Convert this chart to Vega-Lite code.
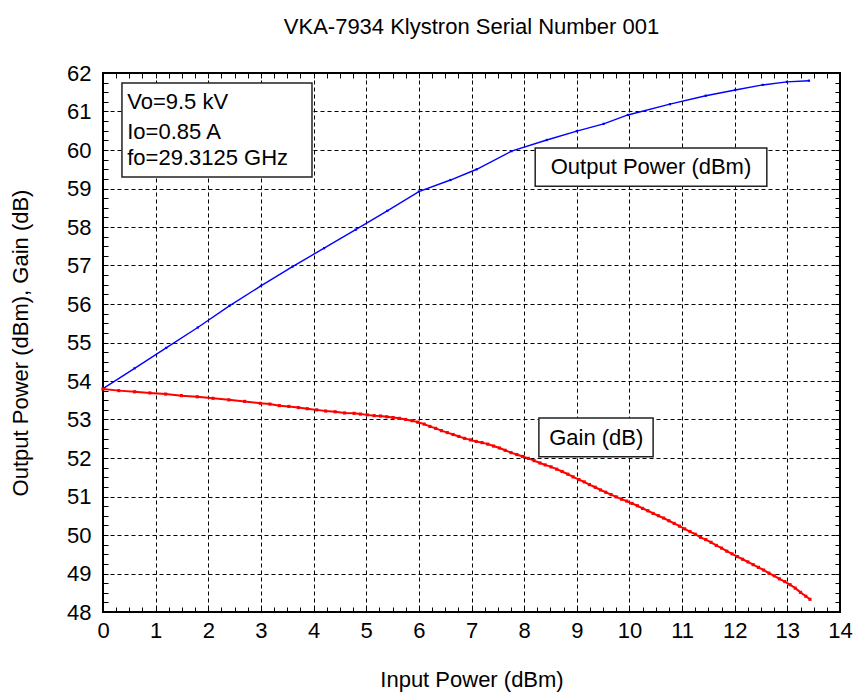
{
  "$schema": "https://vega.github.io/schema/vega-lite/v6.json",
  "width": 737,
  "height": 539,
  "autosize": {"type": "none"},
  "padding": {"left": 103, "top": 73, "right": 18, "bottom": 84},
  "background": "white",
  "config": {
    "view": {"stroke": "black", "strokeWidth": 2},
    "font": "Liberation Sans"
  },
  "title": {
    "text": "VKA-7934 Klystron Serial Number 001",
    "font": "Liberation Sans",
    "fontSize": 22,
    "fontWeight": "normal",
    "color": "black",
    "offset": 23
  },
  "datasets": {
    "power": [
      {"inp": 0, "out": 53.8},
      {"inp": 0.6, "out": 54.33},
      {"inp": 1.2, "out": 54.86},
      {"inp": 1.8, "out": 55.39},
      {"inp": 2.4, "out": 55.95},
      {"inp": 3.0, "out": 56.47},
      {"inp": 3.6, "out": 56.97},
      {"inp": 4.2, "out": 57.45},
      {"inp": 4.8, "out": 57.93},
      {"inp": 5.4, "out": 58.42},
      {"inp": 6.0, "out": 58.92},
      {"inp": 6.6, "out": 59.22},
      {"inp": 7.1, "out": 59.5},
      {"inp": 7.76, "out": 59.97},
      {"inp": 8.43, "out": 60.26},
      {"inp": 9.0, "out": 60.49},
      {"inp": 9.51, "out": 60.68},
      {"inp": 9.97, "out": 60.91},
      {"inp": 10.77, "out": 61.19},
      {"inp": 11.45, "out": 61.41},
      {"inp": 12.01, "out": 61.56},
      {"inp": 12.53, "out": 61.69},
      {"inp": 12.99, "out": 61.77},
      {"inp": 13.41, "out": 61.8}
    ],
    "gain": [
      {"inp": 0, "gain": 53.79},
      {"inp": 0.3, "gain": 53.75},
      {"inp": 0.6, "gain": 53.72},
      {"inp": 0.89, "gain": 53.69},
      {"inp": 1.19, "gain": 53.66},
      {"inp": 1.49, "gain": 53.62},
      {"inp": 1.79, "gain": 53.59},
      {"inp": 2.09, "gain": 53.55},
      {"inp": 2.39, "gain": 53.51},
      {"inp": 2.69, "gain": 53.47},
      {"inp": 2.99, "gain": 53.42},
      {"inp": 3.17, "gain": 53.4},
      {"inp": 3.35, "gain": 53.36},
      {"inp": 3.53, "gain": 53.34},
      {"inp": 3.71, "gain": 53.31},
      {"inp": 3.88, "gain": 53.28},
      {"inp": 4.06, "gain": 53.25},
      {"inp": 4.23, "gain": 53.22},
      {"inp": 4.41, "gain": 53.2},
      {"inp": 4.59, "gain": 53.17},
      {"inp": 4.77, "gain": 53.16},
      {"inp": 4.89, "gain": 53.14},
      {"inp": 5.02, "gain": 53.12},
      {"inp": 5.15, "gain": 53.1},
      {"inp": 5.27, "gain": 53.09},
      {"inp": 5.39, "gain": 53.07},
      {"inp": 5.51, "gain": 53.05},
      {"inp": 5.63, "gain": 53.03},
      {"inp": 5.75, "gain": 53.0},
      {"inp": 5.87, "gain": 52.97},
      {"inp": 5.98, "gain": 52.93},
      {"inp": 6.1, "gain": 52.88},
      {"inp": 6.21, "gain": 52.82},
      {"inp": 6.32, "gain": 52.77},
      {"inp": 6.43, "gain": 52.71},
      {"inp": 6.54, "gain": 52.66},
      {"inp": 6.65, "gain": 52.61},
      {"inp": 6.76, "gain": 52.56},
      {"inp": 6.87, "gain": 52.51},
      {"inp": 6.98, "gain": 52.47},
      {"inp": 7.09, "gain": 52.43},
      {"inp": 7.2, "gain": 52.4},
      {"inp": 7.31, "gain": 52.36},
      {"inp": 7.42, "gain": 52.31},
      {"inp": 7.53, "gain": 52.26},
      {"inp": 7.64, "gain": 52.2},
      {"inp": 7.75, "gain": 52.14},
      {"inp": 7.86, "gain": 52.09},
      {"inp": 7.97, "gain": 52.04},
      {"inp": 8.08, "gain": 51.99},
      {"inp": 8.19, "gain": 51.93},
      {"inp": 8.3, "gain": 51.87},
      {"inp": 8.4, "gain": 51.82},
      {"inp": 8.51, "gain": 51.77},
      {"inp": 8.62, "gain": 51.71},
      {"inp": 8.72, "gain": 51.65},
      {"inp": 8.83, "gain": 51.58},
      {"inp": 8.93, "gain": 51.51},
      {"inp": 9.04, "gain": 51.44},
      {"inp": 9.14, "gain": 51.38},
      {"inp": 9.24, "gain": 51.31},
      {"inp": 9.35, "gain": 51.24},
      {"inp": 9.45, "gain": 51.17},
      {"inp": 9.55, "gain": 51.11},
      {"inp": 9.65, "gain": 51.05},
      {"inp": 9.75, "gain": 50.99},
      {"inp": 9.85, "gain": 50.93},
      {"inp": 9.95, "gain": 50.88},
      {"inp": 10.05, "gain": 50.82},
      {"inp": 10.15, "gain": 50.76},
      {"inp": 10.25, "gain": 50.69},
      {"inp": 10.35, "gain": 50.63},
      {"inp": 10.45, "gain": 50.56},
      {"inp": 10.55, "gain": 50.5},
      {"inp": 10.65, "gain": 50.44},
      {"inp": 10.75, "gain": 50.37},
      {"inp": 10.85, "gain": 50.3},
      {"inp": 10.95, "gain": 50.23},
      {"inp": 11.05, "gain": 50.16},
      {"inp": 11.15, "gain": 50.09},
      {"inp": 11.25, "gain": 50.02},
      {"inp": 11.35, "gain": 49.94},
      {"inp": 11.45, "gain": 49.88},
      {"inp": 11.55, "gain": 49.81},
      {"inp": 11.65, "gain": 49.73},
      {"inp": 11.75, "gain": 49.66},
      {"inp": 11.85, "gain": 49.58},
      {"inp": 11.95, "gain": 49.51},
      {"inp": 12.05, "gain": 49.44},
      {"inp": 12.15, "gain": 49.37},
      {"inp": 12.25, "gain": 49.3},
      {"inp": 12.35, "gain": 49.23},
      {"inp": 12.45, "gain": 49.16},
      {"inp": 12.55, "gain": 49.09},
      {"inp": 12.65, "gain": 49.01},
      {"inp": 12.75, "gain": 48.94},
      {"inp": 12.85, "gain": 48.86},
      {"inp": 12.95, "gain": 48.79},
      {"inp": 13.05, "gain": 48.71},
      {"inp": 13.15, "gain": 48.62},
      {"inp": 13.25, "gain": 48.51},
      {"inp": 13.35, "gain": 48.41},
      {"inp": 13.43, "gain": 48.33}
    ],
    "boxes": [
      {"x1": 0.36, "x2": 3.97, "y1": 61.74, "y2": 59.3},
      {"x1": 8.21, "x2": 12.61, "y1": 60.05, "y2": 59.06},
      {"x1": 8.28, "x2": 10.45, "y1": 53.04, "y2": 52.03}
    ],
    "notes": [
      {"x": 0.46, "y": 61.25, "label": "Vo=9.5 kV"},
      {"x": 0.46, "y": 60.47, "label": "Io=0.85 A"},
      {"x": 0.46, "y": 59.79, "label": "fo=29.3125 GHz"}
    ],
    "labels": [
      {"x": 10.41, "y": 59.56, "label": "Output Power (dBm)"},
      {"x": 9.37, "y": 52.53, "label": "Gain (dB)"}
    ]
  },
  "resolve": {"axis": {"x": "independent", "y": "independent"}},
  "layer": [
    {
      "data": {"name": "power"},
      "mark": {"type": "line", "color": "#0000FF", "strokeWidth": 1.4, "point": {"shape": "square", "filled": true, "size": 5, "color": "#0000FF"}},
      "encoding": {
        "x": {
          "field": "inp", "type": "quantitative",
          "scale": {"domain": [0, 14], "nice": false, "zero": false},
          "axis": {
            "orient": "bottom",
            "values": [0,0.25,0.5,0.75,1,1.25,1.5,1.75,2,2.25,2.5,2.75,3,3.25,3.5,3.75,4,4.25,4.5,4.75,5,5.25,5.5,5.75,6,6.25,6.5,6.75,7,7.25,7.5,7.75,8,8.25,8.5,8.75,9,9.25,9.5,9.75,10,10.25,10.5,10.75,11,11.25,11.5,11.75,12,12.25,12.5,12.75,13,13.25,13.5,13.75,14],
            "labelExpr": "datum.value % 1 === 0 ? format(datum.value, 'd') : ''",
            "labelOverlap": false,
            "labelFlush": false,
            "labelFont": "Liberation Sans",
            "labelFontSize": 22,
            "labelColor": "black",
            "labelPadding": 13,
            "tickSize": -5,
            "tickColor": "black",
            "tickWidth": 1,
            "domain": false,
            "grid": true,
            "gridColor": "black",
            "gridWidth": 1,
            "gridDash": [4, 3],
            "gridOpacity": {"condition": {"test": "datum.value % 1 === 0", "value": 1}, "value": 0},
            "title": "Input Power (dBm)",
            "titleFont": "Liberation Sans",
            "titleFontSize": 22,
            "titleFontWeight": "normal",
            "titleColor": "black",
            "titlePadding": 28
          }
        },
        "y": {
          "field": "out", "type": "quantitative",
          "scale": {"domain": [48, 62], "nice": false, "zero": false},
          "axis": {
            "orient": "left",
            "values": [48,48.25,48.5,48.75,49,49.25,49.5,49.75,50,50.25,50.5,50.75,51,51.25,51.5,51.75,52,52.25,52.5,52.75,53,53.25,53.5,53.75,54,54.25,54.5,54.75,55,55.25,55.5,55.75,56,56.25,56.5,56.75,57,57.25,57.5,57.75,58,58.25,58.5,58.75,59,59.25,59.5,59.75,60,60.25,60.5,60.75,61,61.25,61.5,61.75,62],
            "labelExpr": "datum.value % 1 === 0 ? format(datum.value, 'd') : ''",
            "labelOverlap": false,
            "labelFlush": false,
            "labelFont": "Liberation Sans",
            "labelFontSize": 22,
            "labelColor": "black",
            "labelPadding": 17,
            "tickSize": -5,
            "tickColor": "black",
            "tickWidth": 1,
            "domain": false,
            "grid": true,
            "gridColor": "black",
            "gridWidth": 1,
            "gridDash": [4, 3],
            "gridOpacity": {"condition": {"test": "datum.value % 1 === 0", "value": 1}, "value": 0},
            "title": "Output Power (dBm), Gain (dB)",
            "titleFont": "Liberation Sans",
            "titleFontSize": 22,
            "titleFontWeight": "normal",
            "titleColor": "black",
            "titlePadding": 34
          }
        }
      }
    },
    {
      "data": {"name": "gain"},
      "mark": {"type": "line", "color": "#FF0000", "strokeWidth": 2, "point": {"shape": "square", "filled": true, "size": 10, "color": "#FF0000"}},
      "encoding": {
        "x": {
          "field": "inp", "type": "quantitative",
          "axis": {
            "orient": "top",
            "values": [0,0.25,0.5,0.75,1,1.25,1.5,1.75,2,2.25,2.5,2.75,3,3.25,3.5,3.75,4,4.25,4.5,4.75,5,5.25,5.5,5.75,6,6.25,6.5,6.75,7,7.25,7.5,7.75,8,8.25,8.5,8.75,9,9.25,9.5,9.75,10,10.25,10.5,10.75,11,11.25,11.5,11.75,12,12.25,12.5,12.75,13,13.25,13.5,13.75,14],
            "labels": false,
            "tickSize": -5,
            "tickColor": "black",
            "tickWidth": 1,
            "domain": false,
            "grid": false,
            "title": null
          }
        },
        "y": {
          "field": "gain", "type": "quantitative",
          "axis": {
            "orient": "right",
            "values": [48,48.25,48.5,48.75,49,49.25,49.5,49.75,50,50.25,50.5,50.75,51,51.25,51.5,51.75,52,52.25,52.5,52.75,53,53.25,53.5,53.75,54,54.25,54.5,54.75,55,55.25,55.5,55.75,56,56.25,56.5,56.75,57,57.25,57.5,57.75,58,58.25,58.5,58.75,59,59.25,59.5,59.75,60,60.25,60.5,60.75,61,61.25,61.5,61.75,62],
            "labels": false,
            "tickSize": -5,
            "tickColor": "black",
            "tickWidth": 1,
            "domain": false,
            "grid": false,
            "title": null
          }
        }
      }
    },
    {
      "data": {"name": "boxes"},
      "mark": {"type": "rect", "fill": "white", "stroke": "#222222", "strokeWidth": 1.5},
      "encoding": {
        "x": {"field": "x1", "type": "quantitative", "axis": null},
        "x2": {"field": "x2"},
        "y": {"field": "y1", "type": "quantitative", "axis": null},
        "y2": {"field": "y2"}
      }
    },
    {
      "data": {"name": "notes"},
      "mark": {"type": "text", "align": "left", "baseline": "middle", "font": "Liberation Sans", "fontSize": 22, "color": "black"},
      "encoding": {
        "x": {"field": "x", "type": "quantitative", "axis": null},
        "y": {"field": "y", "type": "quantitative", "axis": null},
        "text": {"field": "label"}
      }
    },
    {
      "data": {"name": "labels"},
      "mark": {"type": "text", "align": "center", "baseline": "middle", "font": "Liberation Sans", "fontSize": 22, "color": "black"},
      "encoding": {
        "x": {"field": "x", "type": "quantitative", "axis": null},
        "y": {"field": "y", "type": "quantitative", "axis": null},
        "text": {"field": "label"}
      }
    }
  ]
}
